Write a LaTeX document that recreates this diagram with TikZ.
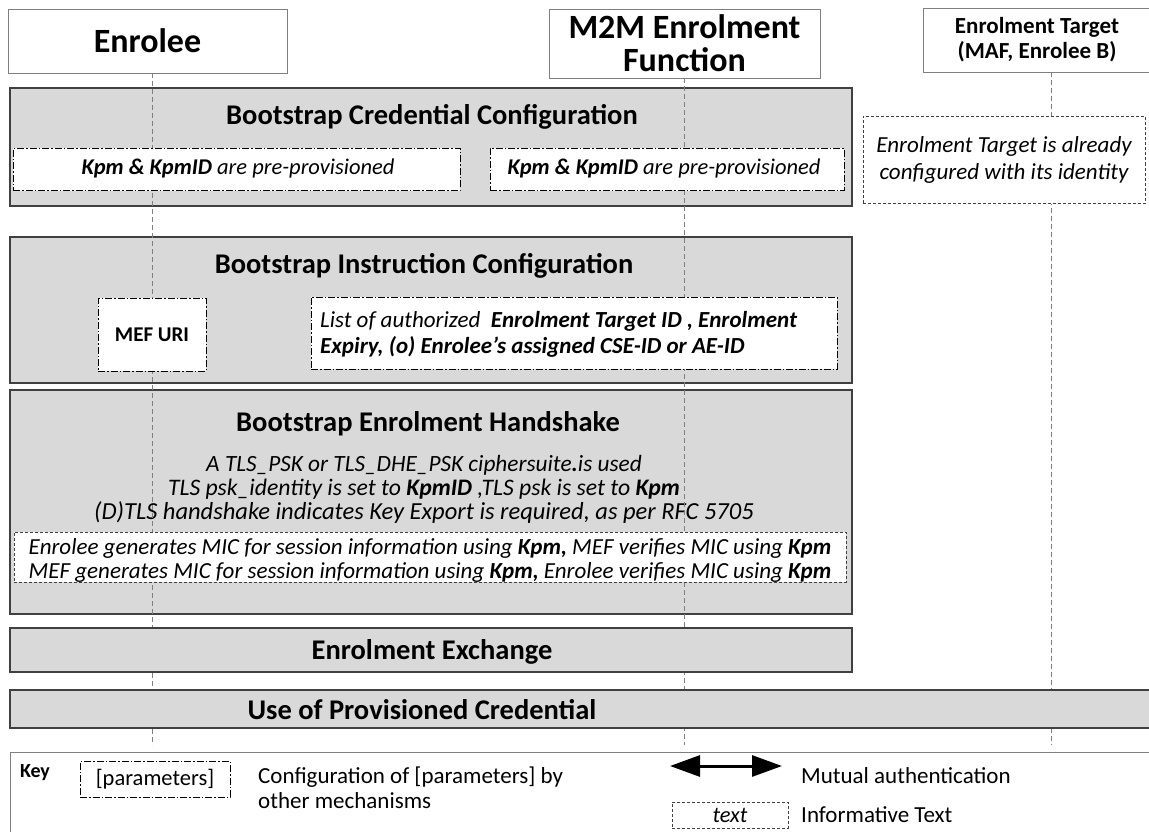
\documentclass[tikz,border=0pt]{standalone}
\usepackage{fontspec}
\setmainfont{Carlito}
\usetikzlibrary{arrows.meta}
\definecolor{phasefill}{HTML}{D9D9D9}
\definecolor{phaseline}{HTML}{404040}
\definecolor{hdrline}{HTML}{7F7F7F}
\definecolor{lifeline}{HTML}{808080}
\begin{document}
\begin{tikzpicture}[x=1pt,y=-1pt,
  hdr/.style={draw=hdrline,line width=0.9pt,fill=white,inner sep=0pt,align=center,font=\fontsize{34}{33}\selectfont\bfseries},
  phase/.style={draw=phaseline,line width=2.4pt,fill=phasefill,inner sep=0pt},
  ptitle/.style={inner sep=0pt,font=\fontsize{28.5}{30}\selectfont\bfseries},
  cfgbox/.style={draw=black,line width=0.9pt,fill=white,inner sep=0pt,dash pattern=on 7pt off 2pt on 1.5pt off 2pt},
  infobox/.style={draw=black!75,line width=0.9pt,fill=white,inner sep=0pt,dash pattern=on 3pt off 2pt},
  body/.style={inner sep=0pt,align=center,font=\fontsize{22.5}{24}\selectfont\itshape},
  life/.style={draw=lifeline,line width=0.8pt,dash pattern=on 5pt off 3pt},
  keytxt/.style={inner sep=0pt,anchor=west,align=left,font=\fontsize{23}{25}\selectfont}]
\useasboundingbox (0,0) rectangle (1149,832);
% headers
\node[hdr,minimum width=279pt,minimum height=64pt] (enrolee) at (147.5,41) {Enrolee};
\node[hdr,minimum width=271pt,minimum height=69pt] (mef) at (684.5,43.5) {M2M Enrolment\\Function};
\node[hdr,minimum width=228pt,minimum height=64pt,font=\fontsize{23}{25}\selectfont\bfseries] (target) at (1037,40) {Enrolment Target\\(MAF, Enrolee B)};
% phases 1-3 (behind the lifelines)
\node[phase,minimum width=842pt,minimum height=118pt] (p1) at (431,147) {};
\node[ptitle] (p1t) at (432,117) {Bootstrap Credential Configuration};
\node[phase,minimum width=842pt,minimum height=146pt] (p2) at (431,310) {};
\node[ptitle] (p2t) at (424,266) {Bootstrap Instruction Configuration};
\node[phase,minimum width=842pt,minimum height=224pt] (p3) at (431,502) {};
\node[ptitle] (p3t) at (428,424) {Bootstrap Enrolment Handshake};
\node[body,font=\fontsize{23.3}{24}\selectfont\itshape] (p3b1) at (424,465) {A TLS\_PSK or TLS\_DHE\_PSK ciphersuite\textbf{.}is used};
\node[body,font=\fontsize{23.7}{24}\selectfont\itshape] (p3b2) at (424,489) {TLS psk\_identity is set to \textbf{KpmID} ,TLS psk is set to \textbf{Kpm}};
\node[body,font=\fontsize{24.5}{24}\selectfont\itshape] (p3b3) at (424,513) {(D)TLS handshake indicates Key Export is required, as per RFC 5705};
% lifelines
\coordinate (e0) at (152,73);
\coordinate (e1) at (152,745);
\coordinate (m0) at (684,78);
\coordinate (m1) at (684,745);
\coordinate (t0) at (1051,72);
\coordinate (t1) at (1051,745);
\draw[life] (e0) -- (e1);
\draw[life] (m0) -- (m1);
\draw[life] (t0) -- (t1);
% white boxes (in front of the lifelines)
\node[cfgbox,minimum width=447pt,minimum height=42pt] (c1a) at (236.5,169.5) {};
\node[body] (c1at) at (238,169) {\textbf{Kpm \& KpmID} are pre-provisioned};
\node[cfgbox,minimum width=354pt,minimum height=42pt] (c1b) at (667,169.5) {};
\node[body] (c1bt) at (664,169) {\textbf{Kpm \& KpmID} are pre-provisioned};
\node[infobox,minimum width=282pt,minimum height=87pt,body,font=\fontsize{23}{27}\selectfont\itshape] (info) at (1004,160) {Enrolment Target is already\\configured with its identity};
\node[cfgbox,minimum width=108pt,minimum height=73pt,font=\fontsize{21}{24}\selectfont\bfseries] (mefuri) at (152,334.5) {MEF URI};
\node[cfgbox,minimum width=526pt,minimum height=72pt] (list) at (574,333) {};
\node[body,anchor=west,align=left,font=\fontsize{23}{26}\selectfont\itshape] (listt) at (320,334) {List of authorized \ \textbf{Enrolment Target ID , Enrolment}\\\textbf{Expiry, (o) Enrolee's assigned CSE-ID or AE-ID}};
\node[infobox,minimum width=832pt,minimum height=50pt] (mic) at (430,557) {};
\node[body,font=\fontsize{23}{24}\selectfont\itshape] (mict) at (430,560) {Enrolee generates MIC for session information using \textbf{Kpm,} MEF verifies MIC using \textbf{Kpm}\\MEF generates MIC for session information using \textbf{Kpm,} Enrolee verifies MIC using \textbf{Kpm}};
% phases 4 and 5 (in front of the lifelines)
\node[phase,minimum width=842pt,minimum height=44pt] (p4) at (431,650) {};
\node[ptitle] (p4t) at (432,652) {Enrolment Exchange};
\node[phase,minimum width=1150pt,minimum height=38pt] (p5) at (585,709) {};
\node[ptitle] (p5t) at (422,710) {Use of Provisioned Credential};
% key
\coordinate (k0) at (1149,752);
\coordinate (k1) at (10,752);
\coordinate (k2) at (10,832);
\draw[draw=hdrline,line width=0.9pt] (k0) -- (k1) -- (k2);
\node[inner sep=0pt,font=\fontsize{20}{20}\selectfont\bfseries] (key) at (35,773) {Key};
\node[cfgbox,minimum width=150pt,minimum height=36pt,font=\fontsize{22.5}{20}\selectfont] (kparam) at (155,779) {[parameters]};
\node[keytxt] (kparamt) at (258,788) {Configuration of [parameters] by\\other mechanisms};
\coordinate (a0) at (670,766);
\coordinate (a1) at (782,766);
\draw[line width=3pt,{Triangle[length=30pt,width=21pt]}-{Triangle[length=30pt,width=21pt]}] (a0) -- (a1);
\node[keytxt] (kmut) at (801,776) {Mutual authentication};
\node[infobox,minimum width=116pt,minimum height=26pt,font=\fontsize{22.5}{20}\selectfont\itshape] (ktext) at (730,815) {text};
\node[keytxt] (kinfo) at (801,815) {Informative Text};
\end{tikzpicture}
\end{document}
